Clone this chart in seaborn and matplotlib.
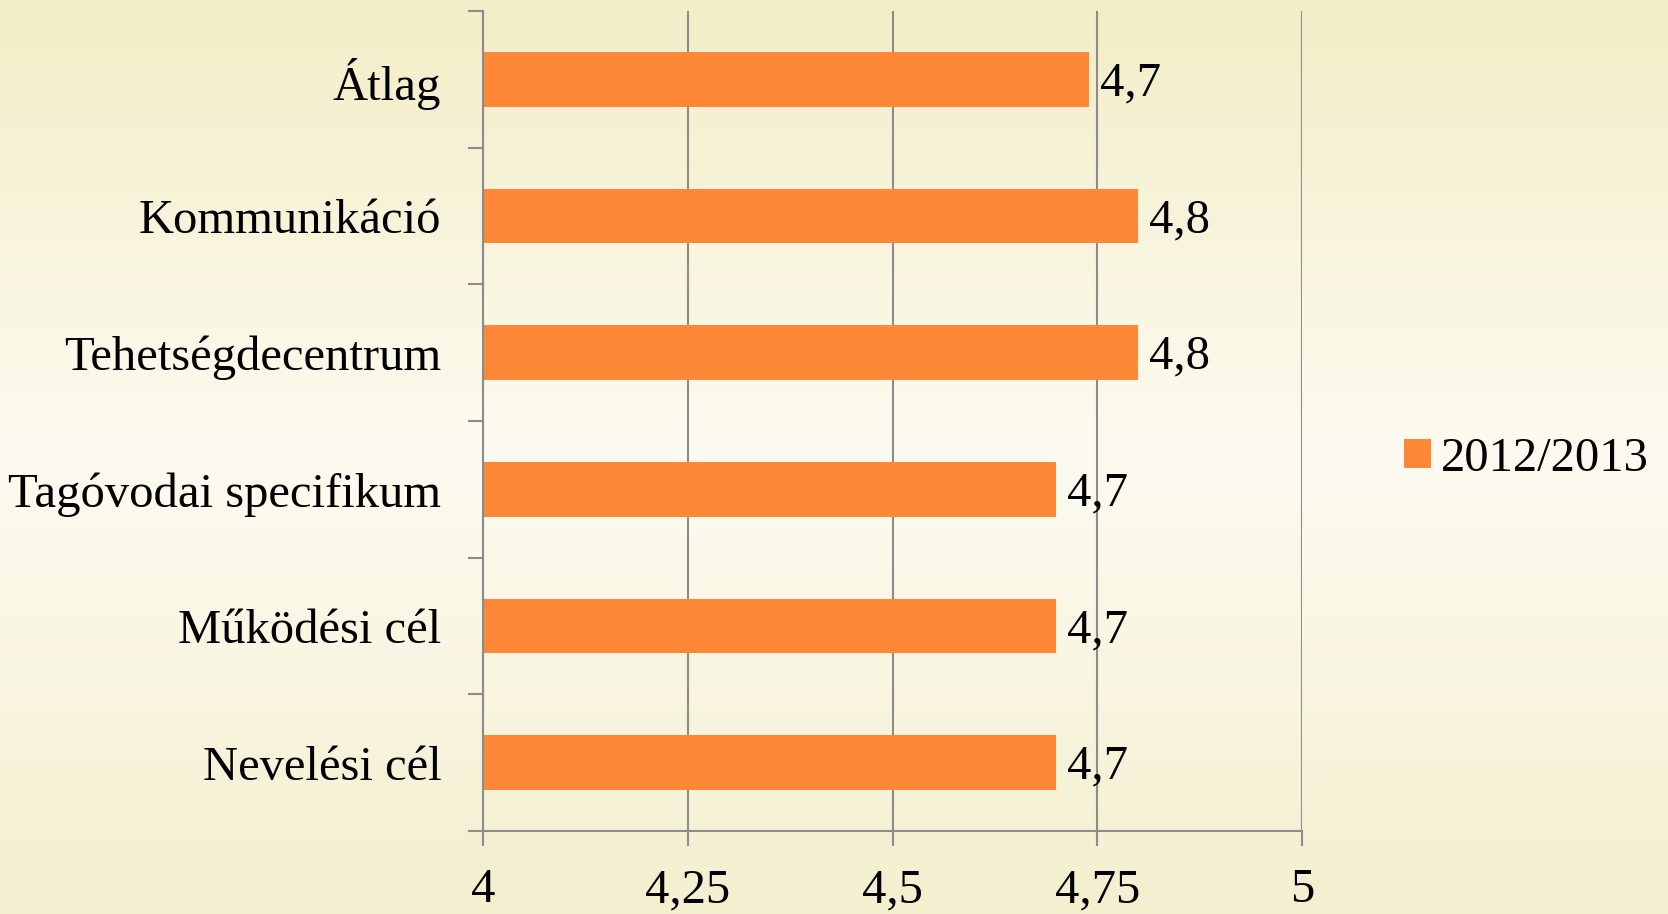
import numpy as np
import pandas as pd
import matplotlib
matplotlib.use("Agg")
import matplotlib.pyplot as plt
from matplotlib.colors import LinearSegmentedColormap
import seaborn as sns

categories = ["Átlag", "Kommunikáció", "Tehetségdecentrum",
              "Tagóvodai specifikum", "Működési cél", "Nevelési cél"]
values = [4.74, 4.80, 4.80, 4.70, 4.70, 4.70]
series_name = "2012/2013"
x_ticks = [4, 4.25, 4.5, 4.75, 5]
x_tick_labels = ["4", "4,25", "4,5", "4,75", "5"]

df = pd.DataFrame({"cat": categories, "val": values, "period": [series_name] * len(values)})

sns.set_style("white")
plt.rcParams["font.family"] = ["Liberation Serif", "DejaVu Serif"]
plt.rcParams["text.color"] = "black"
plt.rcParams["xtick.color"] = "black"
plt.rcParams["ytick.color"] = "black"
plt.rcParams["axes.labelcolor"] = "black"

W, H = 1668, 914
fig = plt.figure(figsize=(W / 100, H / 100), dpi=100)

# background gradient
bg = fig.add_axes([0, 0, 1, 1], zorder=-10)
cmap = LinearSegmentedColormap.from_list(
    "bg", [(0.0, "#F3EDC7"), (0.5, "#FDFBF1"), (1.0, "#F4EFCF")])
grad = np.linspace(0, 1, 256).reshape(-1, 1)
bg.imshow(grad, aspect="auto", cmap=cmap, extent=[0, 1, 0, 1], origin="upper")
bg.axis("off")

left, right = 483 / W, 1302 / W
top, bottom = 1 - 11 / H, 1 - 831 / H
ax = fig.add_axes([left, bottom, right - left, top - bottom])
ax.set_facecolor("none")

bar_color = "#FF8838"
sns.barplot(data=df, y="cat", x="val", hue="period", orient="h",
            palette=[bar_color], width=0.4, dodge=False, ax=ax,
            order=categories, saturation=1, legend=True, linewidth=0)

ax.set_xlim(4, 5)
ax.set_ylim(len(categories) - 0.5, -0.5)
ax.set_xlabel("")
ax.set_ylabel("")

fs = 35
grid_c = "#8C8C8C"
lw = 1.5

ax.set_xticks(x_ticks)
ax.set_xticklabels(x_tick_labels, fontsize=fs, color="black")
ax.tick_params(axis="x", bottom=True, direction="out", length=11, width=lw,
               color=grid_c, labelcolor="black", pad=16)
ax.xaxis.grid(True, color=grid_c, linewidth=lw)
ax.yaxis.grid(False)
ax.set_axisbelow(True)

# y: boundary ticks as major, labels as minor
ax.set_yticks(np.arange(-0.5, len(categories), 1.0))
ax.set_yticklabels([])
ax.set_yticks(np.arange(len(categories)), minor=True)
ax.set_yticklabels(categories, minor=True, fontsize=fs, color="black")
ax.tick_params(axis="y", which="major", left=True, direction="out", length=11,
               width=lw, color=grid_c)
ax.tick_params(axis="y", which="minor", left=True, length=0, pad=30,
               labelcolor="black")

for s in ["top", "right"]:
    ax.spines[s].set_visible(False)
for s in ["left", "bottom"]:
    ax.spines[s].set_color(grid_c)
    ax.spines[s].set_linewidth(lw)

for cont in ax.containers:
    labels = [f"{v:.1f}".replace(".", ",") for v in cont.datavalues]
    texts = ax.bar_label(cont, labels=labels, padding=8, fontsize=fs, color="black")
    for t in texts:
        t.xyann = (8, -3)

handles, labs = ax.get_legend_handles_labels()
if ax.get_legend() is not None:
    ax.get_legend().remove()
fig.legend(handles, labs, loc="center left",
           bbox_to_anchor=(1404 / W, 1 - 459 / H), frameon=False,
           fontsize=fs, handlelength=0.55, handleheight=0.55,
           handletextpad=0.2, borderpad=0, borderaxespad=0,
           labelcolor="black")

fig.savefig("out.png", dpi=100)
